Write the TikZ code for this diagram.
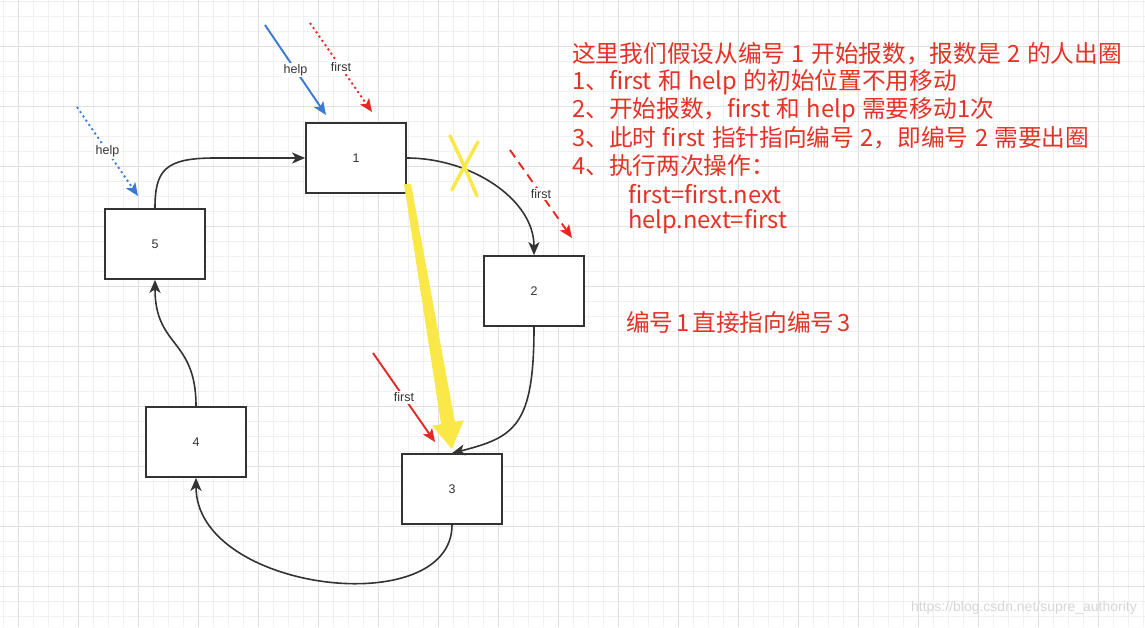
\documentclass[tikz,border=0pt]{standalone}
\usepackage{fontspec}
\setmainfont{Liberation Sans}
\newfontfamily\cjk{Noto Sans CJK SC}
\usetikzlibrary{arrows.meta}
\definecolor{ink}{RGB}{51,51,51}
\definecolor{redtxt}{RGB}{228,50,38}
\definecolor{redarr}{RGB}{228,40,36}
\definecolor{bluearr}{RGB}{58,122,212}
\definecolor{yel}{RGB}{250,232,72}
\definecolor{gridminor}{RGB}{240,240,240}
\definecolor{gridmajor}{RGB}{224,224,224}
\newcommand\gap{\hspace{0.27em}}
\newcommand\tgap{\hspace{0.12em}}
\begin{document}
\begin{tikzpicture}[x=1pt,y=-1pt,
 box/.style={draw=ink, line width=1.7pt, fill=white, minimum width=100pt, minimum height=70pt, inner sep=0pt, font=\fontsize{12.5}{14}\selectfont, text=ink},
 conn/.style={draw=ink, line width=1.6pt, -{Stealth[length=13pt,width=11pt,inset=3.5pt]}},
 ptr/.style={line width=1.9pt, -{Stealth[length=13pt,width=11pt,inset=3pt]}},
 lbl/.style={fill=white, inner sep=1.5pt, text=ink, font=\fontsize{12.5}{14}\selectfont},
 note/.style={anchor=west, text=redtxt, inner sep=0pt, font=\cjk\fontsize{23.7}{28}\selectfont},
 xmark/.style={yel, line width=3.5pt, line cap=round},
]
\useasboundingbox (0,0) rectangle (1145,627);
\fill[white] (0,0) rectangle (1145,627);
\foreach \i in {0,...,76} \draw[gridminor, line width=1pt] ({3+15*\i},0) -- ({3+15*\i},627);
\foreach \j in {0,...,41} \draw[gridminor, line width=1pt] (0,{1+15*\j}) -- (1145,{1+15*\j});
\foreach \i in {0,...,18} \draw[gridmajor, line width=1pt] ({18+60*\i},0) -- ({18+60*\i},627);
\foreach \j in {0,...,9} \draw[gridmajor, line width=1pt] (0,{46+60*\j}) -- (1145,{46+60*\j});

% boxes
\node[box] (n1) at (356,158) {1};
\node[box] (n2) at (534,291) {2};
\node[box] (n3) at (452,489) {3};
\node[box] (n4) at (196,442) {4};
\node[box] (n5) at (155,244) {5};

% connectors
\draw[conn] (n5.north) .. controls (155,170) and (165,158) .. (215,158) -- (n1.west);
\draw[conn] (n1.east) .. controls +(64,0) and +(0,-56) .. (n2.north);
\draw[conn] (n2.south) .. controls +(0,99) and +(63,-16) .. (n3.north);
\draw[conn] (n3.south) .. controls +(0,97) and +(0,114) .. (n4.south);
\draw[conn] (n4.north) .. controls +(0,-68) and +(0,68) .. (n5.south);

% yellow highlight arrow 1 -> 3
\coordinate (ys) at (407.5,184);
\coordinate (ye) at (452,449);
\fill[yel] (404,184) -- (411,184) -- (454.9,421.8) -- (463.8,420.3) -- (ye) -- (432,425.7) -- (441.1,424.2) -- cycle;

% yellow cross
\draw[xmark] (450,136) .. controls (462,160) and (470,180) .. (477,196);
\draw[xmark] (478,142) .. controls (468,160) and (458,178) .. (452,190);

% pointers
\coordinate (h1a) at (265,25);  \coordinate (h1b) at (326,115);
\coordinate (f1a) at (310,23);  \coordinate (f1b) at (372,112);
\coordinate (h2a) at (77,107);  \coordinate (h2b) at (138,196);
\coordinate (f2a) at (510,150); \coordinate (f2b) at (572,238);
\coordinate (f3a) at (373,353); \coordinate (f3b) at (435,442);
\draw[ptr, bluearr] (h1a) -- node[lbl] {help} (h1b);
\draw[ptr, redarr, dash pattern=on 2pt off 3.2pt] (f1a) -- node[lbl] {first} (f1b);
\draw[ptr, bluearr, dash pattern=on 2pt off 3.2pt] (h2a) -- node[lbl] {help} (h2b);
\draw[ptr, redarr, dash pattern=on 9pt off 6pt] (f2a) -- node[lbl] {first} (f2b);
\draw[ptr, redarr] (f3a) -- node[lbl] {first} (f3b);

% notes
\node[note] (t1) at (572,54) {这里我们假设从编号\gap{}1\gap{}开始报数，报数是\gap{}2\gap{}的人出圈};
\node[note] (t2) at (572,82) {1、first\gap{}和\gap{}help\gap{}的初始位置不用移动};
\node[note] (t3) at (572,110) {2、开始报数，first\gap{}和\gap{}help\gap{}需要移动1次};
\node[note] (t4) at (572,138) {3、此时\gap{}first\gap{}指针指向编号\gap{}2，即编号\gap{}2\gap{}需要出圈};
\node[note] (t5) at (572,166) {4、执行两次操作：};
\node[note] (t6) at (628,194) {first=first.next};
\node[note] (t7) at (628,222) {help.next=first};
\node[note] (t8) at (626,322) {编号\tgap{}1\tgap{}直接指向编号\tgap{}3};

\node[anchor=east, text=black!16, inner sep=0pt, font=\fontsize{14}{16}\selectfont] (wm) at (1137,608) {https://blog.csdn.net/supre\_authority};
\end{tikzpicture}
\end{document}
